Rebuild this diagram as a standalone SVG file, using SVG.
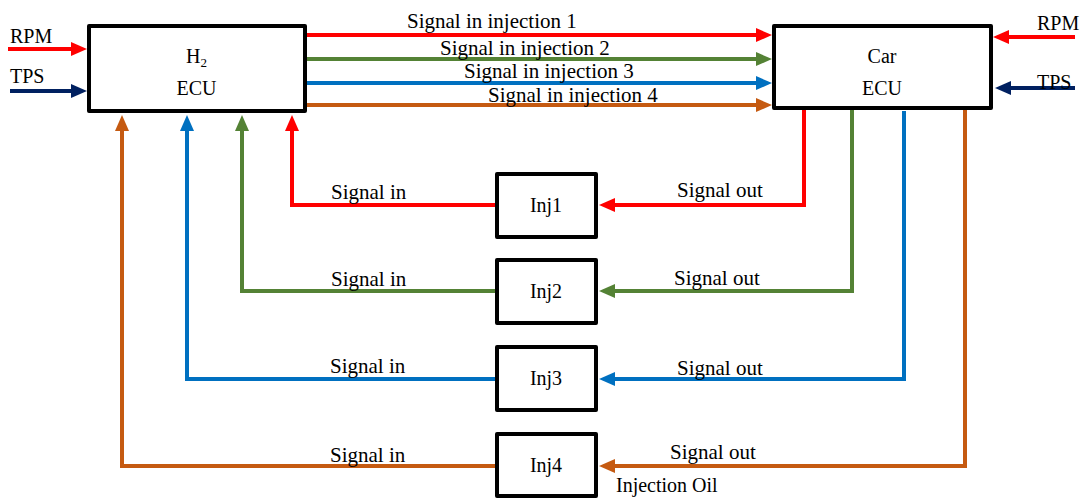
<svg xmlns="http://www.w3.org/2000/svg" width="1092" height="498" viewBox="0 0 1092 498">
  <style>
    .box { fill: #ffffff; stroke: #000000; stroke-width: 4; stroke-linejoin: round; }
    .lbl { font-family: "Liberation Serif", "Times New Roman", serif; font-size: 21px; fill: #000000; }
    .io { font-family: "Liberation Serif", "Times New Roman", serif; font-size: 20px; fill: #000000; }
    .ln { fill: none; stroke-width: 4; stroke-linejoin: miter; }
    .red { stroke: #FF0000; }
    .green { stroke: #548235; }
    .blue { stroke: #0070C0; }
    .orange { stroke: #C55A11; }
    .navy { stroke: #002060; }
  </style>
  <defs>
    <marker id="ah-red" markerUnits="userSpaceOnUse" markerWidth="16" markerHeight="14" refX="8" refY="7" orient="auto"><path d="M0,0 L16,7 L0,14 Z" fill="#FF0000"/></marker>
    <marker id="ah-green" markerUnits="userSpaceOnUse" markerWidth="16" markerHeight="14" refX="8" refY="7" orient="auto"><path d="M0,0 L16,7 L0,14 Z" fill="#548235"/></marker>
    <marker id="ah-blue" markerUnits="userSpaceOnUse" markerWidth="16" markerHeight="14" refX="8" refY="7" orient="auto"><path d="M0,0 L16,7 L0,14 Z" fill="#0070C0"/></marker>
    <marker id="ah-orange" markerUnits="userSpaceOnUse" markerWidth="16" markerHeight="14" refX="8" refY="7" orient="auto"><path d="M0,0 L16,7 L0,14 Z" fill="#C55A11"/></marker>
    <marker id="ah-navy" markerUnits="userSpaceOnUse" markerWidth="16" markerHeight="14" refX="8" refY="7" orient="auto"><path d="M0,0 L16,7 L0,14 Z" fill="#002060"/></marker>
  </defs>

  <!-- connectors -->
  <g id="connectors">
    <!-- external inputs -->
    <line class="ln red" x1="8" y1="49" x2="79" y2="49" marker-end="url(#ah-red)"/>
    <line class="ln navy" x1="10" y1="91" x2="79" y2="91" marker-end="url(#ah-navy)"/>
    <line class="ln red" x1="1075" y1="37" x2="1001" y2="37" marker-end="url(#ah-red)"/>
    <line class="ln navy" x1="1075" y1="88" x2="1003" y2="88" marker-end="url(#ah-navy)"/>

    <!-- H2 ECU to Car ECU -->
    <line class="ln red" x1="307" y1="35" x2="764" y2="35" marker-end="url(#ah-red)"/>
    <line class="ln green" x1="307" y1="59" x2="764" y2="59" marker-end="url(#ah-green)"/>
    <line class="ln blue" x1="307" y1="83" x2="764" y2="83" marker-end="url(#ah-blue)"/>
    <line class="ln orange" x1="307" y1="105" x2="764" y2="105" marker-end="url(#ah-orange)"/>

    <!-- injector loops: signal in (to H2 ECU) -->
    <polyline class="ln red" points="496,205 292,205 292,123" marker-end="url(#ah-red)"/>
    <polyline class="ln green" points="496,291 242,291 242,123" marker-end="url(#ah-green)"/>
    <polyline class="ln blue" points="496,379 187,379 187,123" marker-end="url(#ah-blue)"/>
    <polyline class="ln orange" points="496,466 122,466 122,123" marker-end="url(#ah-orange)"/>

    <!-- injector loops: signal out (from Car ECU) -->
    <polyline class="ln red" points="804,108 804,205 607,205" marker-end="url(#ah-red)"/>
    <polyline class="ln green" points="852,108 852,291 607,291" marker-end="url(#ah-green)"/>
    <polyline class="ln blue" points="904,111 904,379 607,379" marker-end="url(#ah-blue)"/>
    <polyline class="ln orange" points="965,108 965,466 607,466" marker-end="url(#ah-orange)"/>
  </g>

  <!-- connector labels -->
  <g id="labels">
    <text class="io" x="10" y="43">RPM</text>
    <text class="io" x="10" y="83">TPS</text>
    <text class="io" x="1037" y="30">RPM</text>
    <text class="io" x="1037" y="89">TPS</text>

    <text class="lbl" x="407" y="28">Signal in injection 1</text>
    <text class="lbl" x="440" y="55">Signal in injection 2</text>
    <text class="lbl" x="464" y="78">Signal in injection 3</text>
    <text class="lbl" x="488" y="102">Signal in injection 4</text>

    <text class="lbl" x="331" y="199">Signal in</text>
    <text class="lbl" x="677" y="197">Signal out</text>
    <text class="lbl" x="331" y="286">Signal in</text>
    <text class="lbl" x="674" y="285">Signal out</text>
    <text class="lbl" x="330" y="373">Signal in</text>
    <text class="lbl" x="677" y="375">Signal out</text>
    <text class="lbl" x="330" y="462">Signal in</text>
    <text class="lbl" x="670" y="459">Signal out</text>
    <text class="io" x="616" y="492">Injection Oil</text>
  </g>

  <!-- nodes -->
  <g id="h2-ecu">
    <rect class="box" x="89" y="26" width="216" height="85"/>
    <text class="io" x="196.5" y="63" text-anchor="middle">H<tspan font-size="13" dy="4">2</tspan></text>
    <text class="io" x="196.5" y="95" text-anchor="middle">ECU</text>
  </g>
  <g id="car-ecu">
    <rect class="box" x="774" y="26" width="217" height="82"/>
    <text class="io" x="882" y="63" text-anchor="middle">Car</text>
    <text class="io" x="882" y="95" text-anchor="middle">ECU</text>
  </g>
  <g id="inj1">
    <rect class="box" x="497" y="174" width="99" height="63"/>
    <text class="io" x="546" y="212" text-anchor="middle">Inj1</text>
  </g>
  <g id="inj2">
    <rect class="box" x="497" y="260" width="99" height="63"/>
    <text class="io" x="546" y="298" text-anchor="middle">Inj2</text>
  </g>
  <g id="inj3">
    <rect class="box" x="497" y="347" width="99" height="63"/>
    <text class="io" x="546" y="385" text-anchor="middle">Inj3</text>
  </g>
  <g id="inj4">
    <rect class="box" x="497" y="434" width="99" height="62"/>
    <text class="io" x="546" y="472" text-anchor="middle">Inj4</text>
  </g>
</svg>
